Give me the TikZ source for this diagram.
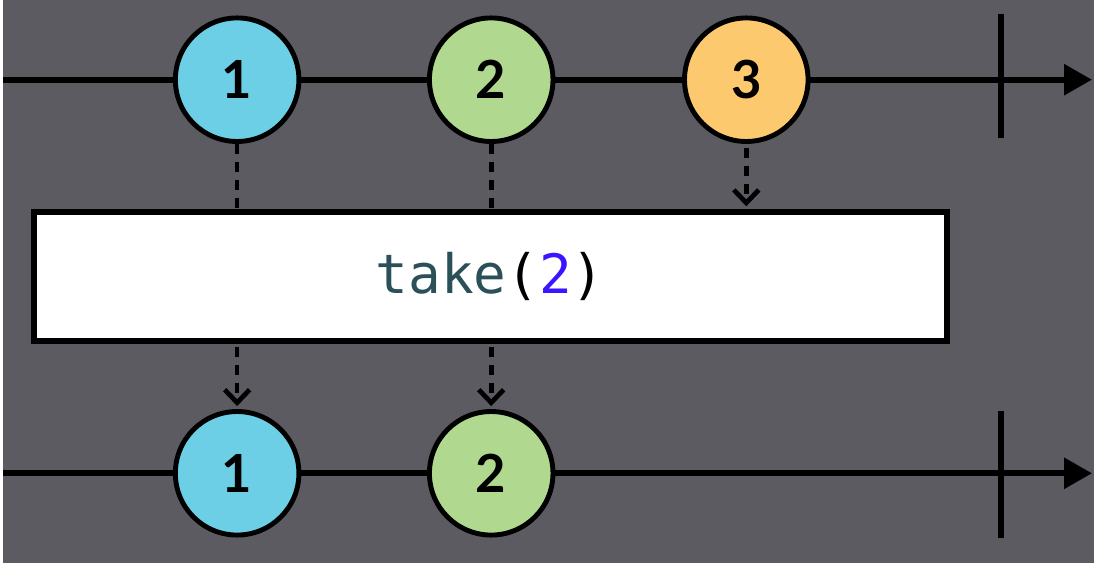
\documentclass[tikz,border=0pt]{standalone}
\usepackage{fontspec}
\setmainfont{Lato}
\setmonofont{DejaVu Sans Mono}
\usepackage{xcolor}
\usepackage{tikz}
\usetikzlibrary{arrows.meta}

\definecolor{bgcol}{HTML}{5C5B61}
\definecolor{itemblue}{HTML}{6DCFE6}
\definecolor{itemgreen}{HTML}{B0D98F}
\definecolor{itemorange}{HTML}{FDC96F}
\definecolor{codeteal}{HTML}{2B5058}
\definecolor{codenum}{HTML}{3C14FF}

\begin{document}
\begin{tikzpicture}[x=1cm, y=1cm,
  item/.style={circle, draw=black, line width=1.4pt, minimum size=1.24cm, inner sep=0pt, font=\bfseries\fontsize{15}{16}\selectfont},
  timeline/.style={line width=1.7pt, -{Triangle[length=0.28cm, width=0.3cm]}},
  endtick/.style={line width=1.7pt},
  flow/.style={line width=1.35pt, dash pattern=on 0.1cm off 0.08cm},
  flowarrow/.style={flow, -{Straight Barb[length=0.13cm, width=0.25cm]}}]
  \fill[bgcol] (0,0) rectangle (10.95,5.65);

  % source stream
  \coordinate (topstart) at (0,4.85);
  \coordinate (topend) at (10.93,4.85);
  \coordinate (topstop) at (10.02,4.85);
  \draw[timeline] (topstart) -- (topend);
  \draw[endtick] ([yshift=0.66cm]topstop) -- ([yshift=-0.58cm]topstop);
  \node[item, fill=itemblue] (a1) at (2.35,4.85) {1};
  \node[item, fill=itemgreen] (a2) at (4.90,4.85) {2};
  \node[item, fill=itemorange] (a3) at (7.46,4.85) {3};

  % operator
  \node[draw=black, fill=white, line width=1.7pt, minimum width=9.16cm, minimum height=1.29cm, inner sep=0pt,
    font=\ttfamily\fontsize{15.5}{16}\selectfont] (op) at (4.89,2.875)
    {\textcolor{codeteal}{take}(\textcolor{codenum}{2})};

  % result stream
  \coordinate (botstart) at (0,0.90);
  \coordinate (botend) at (10.93,0.90);
  \coordinate (botstop) at (10.02,0.90);
  \draw[timeline] (botstart) -- (botend);
  \draw[endtick] ([yshift=0.63cm]botstop) -- ([yshift=-0.65cm]botstop);
  \node[item, fill=itemblue] (b1) at (2.35,0.90) {1};
  \node[item, fill=itemgreen] (b2) at (4.90,0.90) {2};

  \draw[flow] (a1.south) -- (a1.south |- op.north);
  \draw[flow] (a2.south) -- (a2.south |- op.north);
  \draw[flowarrow] ([yshift=-0.04cm]a3.south) -- ([yshift=0.03cm]a3.south |- op.north);
  \draw[flowarrow] ([yshift=-0.03cm]op.south -| b1.north) -- ([yshift=0.03cm]b1.north);
  \draw[flowarrow] ([yshift=-0.03cm]op.south -| b2.north) -- ([yshift=0.03cm]b2.north);
\end{tikzpicture}
\end{document}
